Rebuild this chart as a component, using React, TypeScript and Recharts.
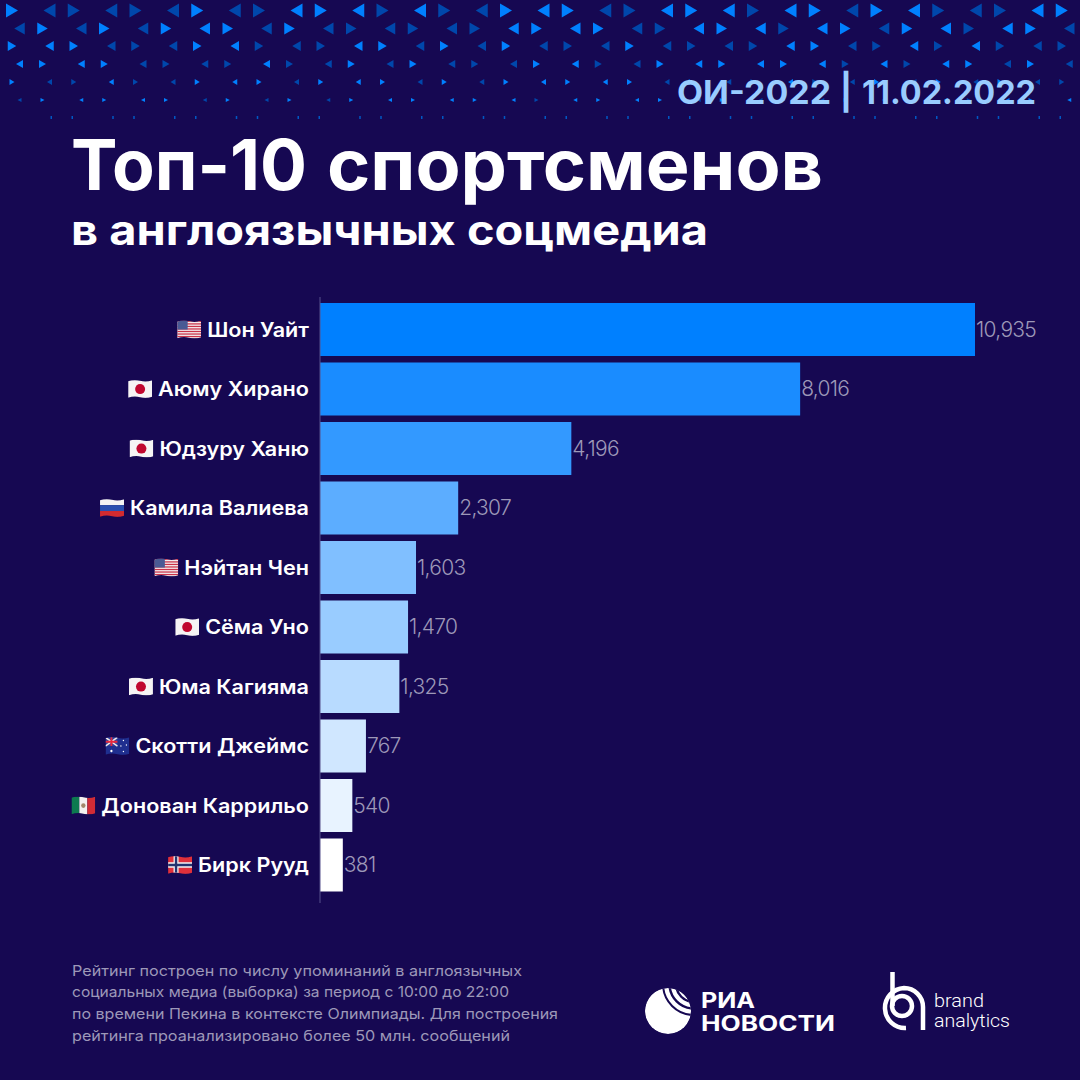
import React from 'react';
import { BarChart, Bar, Cell, XAxis, YAxis, LabelList } from 'recharts';

const names = [
  'Шон Уайт', 'Аюму Хирано', 'Юдзуру Ханю', 'Камила Валиева', 'Нэйтан Чен',
  'Сёма Уно', 'Юма Кагияма', 'Скотти Джеймс', 'Донован Каррильо', 'Бирк Рууд',
];
const flags = ['us', 'jp', 'jp', 'ru', 'us', 'jp', 'jp', 'au', 'mx', 'no'];
const mentions = [10935, 8016, 4196, 2307, 1603, 1470, 1325, 767, 540, 381];
const barColors = [
  '#0080ff', '#1a8cff', '#3399ff', '#5cadff', '#80bfff',
  '#99ccff', '#b8dbff', '#d0e7ff', '#e8f3ff', '#ffffff',
];

const chartData = names.map((name, i) => ({ name, flag: flags[i], value: mentions[i] }));

const footnote = [
  { text: 'Рейтинг построен по числу упоминаний в англоязычных', width: 450, y: 976 },
  { text: 'социальных медиа (выборка) за период с 10:00 до 22:00', width: 437, y: 997 },
  { text: 'по времени Пекина в контексте Олимпиады. Для построения', width: 486, y: 1019 },
  { text: 'рейтинга проанализировано более 50 млн. сообщений', width: 438, y: 1041 },
];

// header pattern: 1 = bright triangle, 0 = dim one
const patternRows = [
  '10000010011101001110011101101100011 0',
  '01010111010000001111001110110110 110',
  '11100011000110101000100001100101000 ',
  '11110000100101000110011111101011 010',
  '10010011101110101111101001001010 100',
  '01111101010111111011110101001010 111',
].map(r => r.replace(/\s/g, ''));
const patternSizes = [[12, 14], [10.5, 12], [8.5, 10], [7, 8], [5, 6], [4, 4]];
const patternY = [10.5, 28.5, 46, 64, 82, 100];

const bg = '#160852';
const STRETCH = 1.08;
const font = 'Inter, sans-serif';

const ctx = document.createElement('canvas').getContext('2d');
const measure = (text: string, css: string) => {
  if (!ctx) return text.length * 11;
  ctx.font = css;
  return ctx.measureText(text).width;
};

const triangle = (cx: number, cy: number, w: number, h: number, right: boolean) =>
  right
    ? `${cx - w / 2},${cy - h / 2} ${cx + w / 2},${cy} ${cx - w / 2},${cy + h / 2}`
    : `${cx + w / 2},${cy - h / 2} ${cx - w / 2},${cy} ${cx + w / 2},${cy + h / 2}`;

const Pattern = () => {
  const items: React.ReactNode[] = [];
  patternRows.forEach((row, r) => {
    const [w, h] = patternSizes[r];
    const even = r % 2 === 0;
    row.split('').forEach((c, i) => {
      const k = Math.floor(i / 2);
      const first = i % 2 === 0;
      const x0 = even ? (first ? 12 : 49.5) : (first ? 19.5 : 42.5);
      const right = even ? first : !first;
      items.push(
        <polygon
          key={`${r}-${i}`}
          points={triangle(x0 + 61.75 * k, patternY[r], w, h, right)}
          fill={c === '1' ? '#0080ff' : '#0047ab'}
        />
      );
    });
  });
  for (let k = 0; k < 17; k++) {
    items.push(<rect key={`a${k}`} x={50.5 + 61.75 * k} y={116} width={1.5} height={3} fill="#0058c4" />);
    items.push(<rect key={`b${k}`} x={71.5 + 61.75 * k} y={116} width={1.5} height={3} fill="#0058c4" />);
  }
  return <g>{items}</g>;
};

const Flag = ({ code, x, y }: { code: string; x: number; y: number }) => {
  const id = `clip-${code}-${Math.round(x)}-${Math.round(y)}`;
  const w = 24;
  const h = 16;
  let body: React.ReactNode = null;
  if (code === 'us') {
    const stripes = [];
    for (let i = 0; i < 7; i++) {
      stripes.push(<rect key={i} x={0} y={i * 2.3} width={w} height={1.15} fill="#c9324a" />);
    }
    body = (
      <>
        <rect width={w} height={h} fill="#f4f1f1" />
        {stripes}
        <rect width={10.5} height={8} fill="#4a5a94" />
      </>
    );
  } else if (code === 'jp') {
    body = (
      <>
        <rect width={w} height={h} fill="#f6f4f4" />
        <ellipse cx={12} cy={8} rx={5} ry={4.6} fill="#c0082f" />
      </>
    );
  } else if (code === 'ru') {
    body = (
      <>
        <rect width={w} height={5.4} fill="#f4f4f4" />
        <rect y={5.4} width={w} height={5.3} fill="#2a50b0" />
        <rect y={10.7} width={w} height={5.3} fill="#d22b30" />
      </>
    );
  } else if (code === 'au') {
    body = (
      <>
        <rect width={w} height={h} fill="#1f2f8f" />
        <rect width={12} height={8} fill="#30409c" />
        <path d="M0 0L12 8M12 0L0 8" stroke="#f0e6e6" strokeWidth={1.4} />
        <path d="M6 0V8M0 4H12" stroke="#e8283c" strokeWidth={1.8} />
        <circle cx={6} cy={12.5} r={1.1} fill="#fff" />
        <circle cx={18} cy={3} r={0.7} fill="#fff" />
        <circle cx={21} cy={7} r={0.7} fill="#fff" />
        <circle cx={15.5} cy={8} r={0.7} fill="#fff" />
        <circle cx={18} cy={13} r={0.7} fill="#fff" />
      </>
    );
  } else if (code === 'mx') {
    body = (
      <>
        <rect width={8} height={h} fill="#0d7a50" />
        <rect x={8} width={8} height={h} fill="#f3f1ef" />
        <rect x={16} width={8} height={h} fill="#d12c35" />
        <circle cx={12} cy={8} r={2.2} fill="#a3886a" />
      </>
    );
  } else if (code === 'no') {
    body = (
      <>
        <rect width={w} height={h} fill="#e0303a" />
        <path d="M8 0V16M0 8H24" stroke="#f2f2f2" strokeWidth={5} />
        <path d="M8 0V16M0 8H24" stroke="#23346f" strokeWidth={2.4} />
      </>
    );
  }
  return (
    <g transform={`translate(${x},${y}) scale(1,1.1)`}>
      <defs>
        <clipPath id={id}>
          <path d="M0 1Q6 -1 12 0.5T24 0V15Q18 17 12 15.5T0 16Z" />
        </clipPath>
      </defs>
      <g clipPath={`url(#${id})`}>{body}</g>
    </g>
  );
};

const NameTick = (props: any) => {
  const { x, y, payload, index } = props;
  const width = measure(payload.value, `600 20px Inter`) * STRETCH;
  return (
    <g>
      <Flag code={flags[index]} x={x - width - 30} y={y - 9} />
      <text
        x={x}
        y={y + 7}
        textAnchor="end"
        fill="#ffffff"
        fontSize={20}
        fontWeight={600}
        fontFamily={font}
        textLength={width}
        lengthAdjust="spacingAndGlyphs"
      >
        {payload.value}
      </text>
    </g>
  );
};

const RiaLogo = () => (
  <g>
    <defs>
      <clipPath id="ria-clip">
        <circle cx={668} cy={1011} r={23} />
      </clipPath>
    </defs>
    <g clipPath="url(#ria-clip)">
      <circle cx={668} cy={1011} r={23} fill="#fff" />
      <circle cx={694} cy={984} r={7} fill={bg} />
      <circle cx={694} cy={984} r={12} fill="none" stroke={bg} strokeWidth={2.2} />
      <circle cx={694} cy={984} r={18} fill="none" stroke={bg} strokeWidth={2.4} />
      <circle cx={694} cy={984} r={24.5} fill="none" stroke={bg} strokeWidth={2.4} />
      <circle cx={694} cy={984} r={31} fill="none" stroke={bg} strokeWidth={2} />
    </g>
    <text x={701} y={1008} fill="#fff" fontFamily={font} fontWeight={700} fontSize={21} textLength={54} lengthAdjust="spacingAndGlyphs">
      РИА
    </text>
    <text x={701} y={1031} fill="#fff" fontFamily={font} fontWeight={700} fontSize={21} textLength={134} lengthAdjust="spacingAndGlyphs">
      НОВОСТИ
    </text>
  </g>
);

const BrandLogo = () => (
  <g fill="none" stroke="#fff" strokeWidth={4.5}>
    <path d="M892.5 972V1006" />
    <circle cx={902} cy={1006} r={10} />
    <path d="M906 1028A19.5 19.5 0 0 1 904 988A19 19 0 0 1 923 1007V1030" />
    <text x={934} y={1007} stroke="none" fill="#fff" fontFamily="Roboto, sans-serif" fontWeight={300} fontSize={18} textLength={50} lengthAdjust="spacingAndGlyphs">
      brand
    </text>
    <text x={934} y={1027} stroke="none" fill="#fff" fontFamily="Roboto, sans-serif" fontWeight={300} fontSize={18} textLength={76} lengthAdjust="spacingAndGlyphs">
      analytics
    </text>
  </g>
);

const Backdrop = () => (
  <svg width={1080} height={1080} style={{ position: 'absolute', left: 0, top: 0 }}>
    <rect width={1080} height={1080} fill={bg} />
    <Pattern />
    <g fill="#99ccff" fontFamily={font} fontWeight={700} fontSize={33}>
      <text x={677} y={104} textLength={154} lengthAdjust="spacingAndGlyphs">ОИ-2022</text>
      <text x={842} y={104} textLength={8} lengthAdjust="spacingAndGlyphs" stroke="#99ccff" strokeWidth={2.5}>|</text>
      <text x={862} y={104} textLength={174} lengthAdjust="spacingAndGlyphs">11.02.2022</text>
    </g>
    <g fill="#fff" fontFamily={font} fontWeight={700} fontSize={70}>
      <text x={71} y={190} textLength={236} lengthAdjust="spacingAndGlyphs">Топ-10</text>
      <text x={327} y={190} textLength={496} lengthAdjust="spacingAndGlyphs">спортсменов</text>
    </g>
    <text x={71} y={245} fill="#fff" fontFamily={font} fontWeight={700} fontSize={41} textLength={637} lengthAdjust="spacingAndGlyphs">
      в англоязычных соцмедиа
    </text>
    {footnote.map((line, i) => (
      <text
        key={i}
        x={72}
        y={line.y}
        fill="#9d98b8"
        fontFamily={font}
        fontSize={14.5}
        textLength={line.width}
        lengthAdjust="spacingAndGlyphs"
      >
        {line.text}
      </text>
    ))}
    <RiaLogo />
    <BrandLogo />
  </svg>
);

const App = () => (
  <div style={{ position: 'absolute', left: 0, top: 0, width: 1080, height: 1080, overflow: 'hidden' }}>
    <Backdrop />
    <div style={{ position: 'absolute', left: 0, top: 0 }}>
      <BarChart
        width={1080}
        height={1080}
        data={chartData}
        layout="vertical"
        margin={{ top: 297, right: 105, bottom: 177, left: 0 }}
      >
        <XAxis type="number" hide domain={[0, 10935]} />
        <YAxis
          type="category"
          dataKey="name"
          width={320}
          interval={0}
          tickLine={false}
          tickSize={0}
          tickMargin={11}
          tick={<NameTick />}
          axisLine={{ stroke: '#56518c', strokeWidth: 1 }}
          padding={{ top: 3, bottom: 8 }}
        />
        <Bar dataKey="value" barSize={53} isAnimationActive={false}>
          {chartData.map((d, i) => (
            <Cell key={d.name} fill={barColors[i]} />
          ))}
          <LabelList
            dataKey="value"
            position="right"
            offset={1}
            fill="#9d98b8"
            fontSize={21}
            fontWeight={300}
            fontFamily={font}
            letterSpacing={-0.7}
            formatter={(v: number) => v.toLocaleString('en-US')}
          />
        </Bar>
      </BarChart>
    </div>
  </div>
);

export default App;
